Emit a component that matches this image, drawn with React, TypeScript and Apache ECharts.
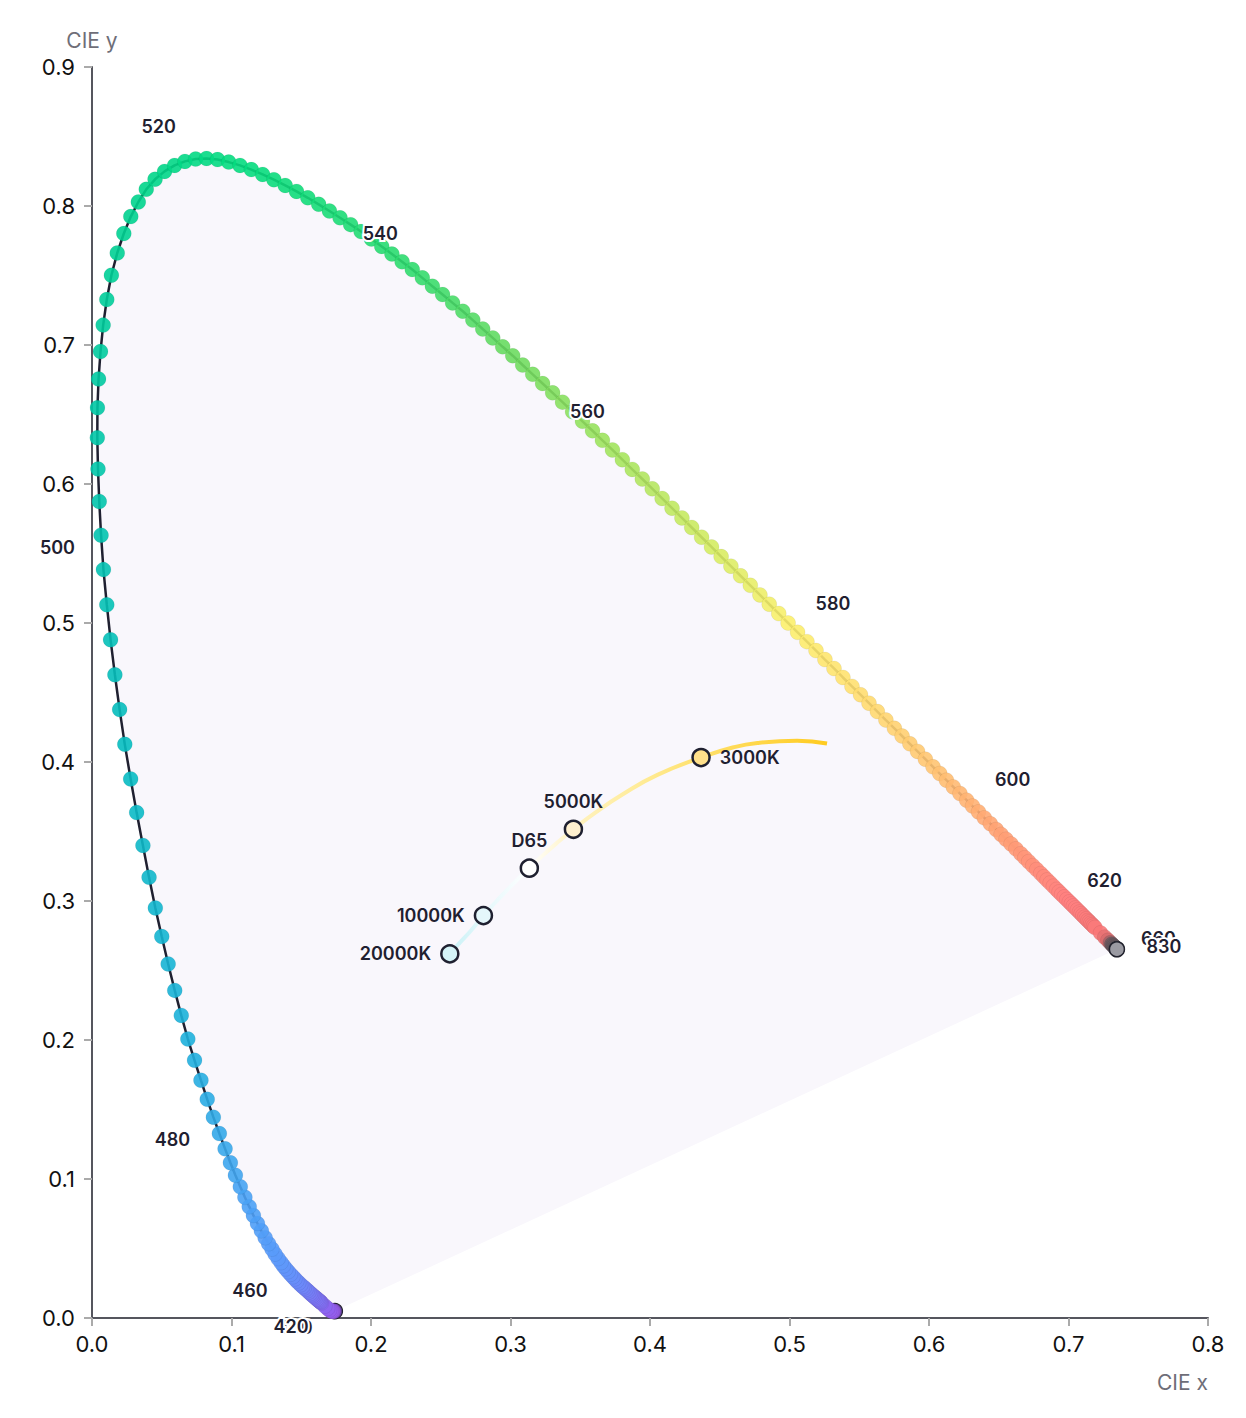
import { useEffect, useRef } from 'react';
import * as echarts from 'echarts';

// CIE 1931 spectral locus: [wavelength nm, x, y]
const SPECTRAL_LOCUS: [number, number, number][] = [
  [380, 0.1741, 0.0050], [385, 0.1740, 0.0050], [390, 0.1738, 0.0049], [395, 0.1736, 0.0049],
  [400, 0.1733, 0.0048], [405, 0.1730, 0.0048], [410, 0.1726, 0.0048], [415, 0.1721, 0.0048],
  [420, 0.1714, 0.0051], [425, 0.1703, 0.0058], [430, 0.1689, 0.0069], [435, 0.1669, 0.0086],
  [440, 0.1644, 0.0109], [441, 0.1638, 0.0115], [442, 0.1632, 0.0120], [443, 0.1625, 0.0126], [444, 0.1618, 0.0132],
  [445, 0.1611, 0.0138], [446, 0.1602, 0.0146], [447, 0.1593, 0.0153], [448, 0.1584, 0.0161], [449, 0.1575, 0.0169],
  [450, 0.1566, 0.0177], [451, 0.1555, 0.0187], [452, 0.1544, 0.0197], [453, 0.1533, 0.0207], [454, 0.1521, 0.0217],
  [455, 0.1510, 0.0227], [456, 0.1496, 0.0240], [457, 0.1482, 0.0253], [458, 0.1468, 0.0267], [459, 0.1454, 0.0282],
  [460, 0.1440, 0.0297], [461, 0.1423, 0.0315], [462, 0.1406, 0.0334], [463, 0.1389, 0.0354], [464, 0.1372, 0.0376],
  [465, 0.1355, 0.0399], [466, 0.1334, 0.0428], [467, 0.1312, 0.0460], [468, 0.1290, 0.0496], [469, 0.1266, 0.0535],
  [470, 0.1241, 0.0578], [471, 0.1214, 0.0627], [472, 0.1186, 0.0680], [473, 0.1157, 0.0738], [474, 0.1127, 0.0801],
  [475, 0.1096, 0.0868], [476, 0.1063, 0.0944], [477, 0.1028, 0.1027], [478, 0.0992, 0.1117], [479, 0.0954, 0.1217],
  [480, 0.0913, 0.1327], [481, 0.0870, 0.1445], [482, 0.0826, 0.1573], [483, 0.0781, 0.1710], [484, 0.0735, 0.1854],
  [485, 0.0687, 0.2007], [486, 0.0640, 0.2177], [487, 0.0593, 0.2357], [488, 0.0546, 0.2547], [489, 0.0500, 0.2744],
  [490, 0.0454, 0.2950], [491, 0.0409, 0.3170], [492, 0.0365, 0.3400], [493, 0.0320, 0.3636], [494, 0.0277, 0.3878],
  [495, 0.0235, 0.4127], [496, 0.0198, 0.4377], [497, 0.0164, 0.4628], [498, 0.0133, 0.4880], [499, 0.0106, 0.5132],
  [500, 0.0082, 0.5384], [501, 0.0065, 0.5632], [502, 0.0052, 0.5874], [503, 0.0043, 0.6108], [504, 0.0038, 0.6333],
  [505, 0.0039, 0.6548], [506, 0.0047, 0.6755], [507, 0.0061, 0.6953], [508, 0.0080, 0.7143], [509, 0.0106, 0.7327],
  [510, 0.0139, 0.7502], [511, 0.0181, 0.7662], [512, 0.0228, 0.7802], [513, 0.0278, 0.7924], [514, 0.0332, 0.8029],
  [515, 0.0389, 0.8120], [516, 0.0452, 0.8192], [517, 0.0520, 0.8249], [518, 0.0592, 0.8292], [519, 0.0666, 0.8321],
  [520, 0.0743, 0.8338], [521, 0.0821, 0.8342], [522, 0.0900, 0.8334], [523, 0.0980, 0.8316], [524, 0.1061, 0.8292],
  [525, 0.1142, 0.8262], [526, 0.1223, 0.8227], [527, 0.1304, 0.8189], [528, 0.1385, 0.8148], [529, 0.1466, 0.8105],
  [530, 0.1547, 0.8059], [531, 0.1625, 0.8012], [532, 0.1702, 0.7964], [533, 0.1778, 0.7915], [534, 0.1854, 0.7866],
  [535, 0.1929, 0.7816], [536, 0.2003, 0.7763], [537, 0.2077, 0.7709], [538, 0.2150, 0.7654], [539, 0.2223, 0.7599],
  [540, 0.2296, 0.7543], [541, 0.2368, 0.7483], [542, 0.2440, 0.7423], [543, 0.2513, 0.7363], [544, 0.2585, 0.7303],
  [545, 0.2658, 0.7243], [546, 0.2730, 0.7179], [547, 0.2801, 0.7115], [548, 0.2873, 0.7051], [549, 0.2944, 0.6987],
  [550, 0.3016, 0.6923], [551, 0.3087, 0.6856], [552, 0.3159, 0.6789], [553, 0.3230, 0.6723], [554, 0.3302, 0.6656],
  [555, 0.3373, 0.6589], [556, 0.3445, 0.6520], [557, 0.3516, 0.6451], [558, 0.3588, 0.6383], [559, 0.3659, 0.6314],
  [560, 0.3731, 0.6245], [561, 0.3802, 0.6175], [562, 0.3873, 0.6105], [563, 0.3945, 0.6036], [564, 0.4016, 0.5966],
  [565, 0.4087, 0.5896], [566, 0.4158, 0.5826], [567, 0.4229, 0.5756], [568, 0.4299, 0.5687], [569, 0.4370, 0.5617],
  [570, 0.4441, 0.5547], [571, 0.4510, 0.5478], [572, 0.4580, 0.5409], [573, 0.4649, 0.5340], [574, 0.4719, 0.5271],
  [575, 0.4788, 0.5202], [576, 0.4855, 0.5135], [577, 0.4923, 0.5068], [578, 0.4990, 0.5000], [579, 0.5058, 0.4933],
  [580, 0.5125, 0.4866], [581, 0.5190, 0.4802], [582, 0.5254, 0.4737], [583, 0.5319, 0.4673], [584, 0.5383, 0.4608],
  [585, 0.5448, 0.4544], [586, 0.5509, 0.4484], [587, 0.5570, 0.4423], [588, 0.5630, 0.4363], [589, 0.5691, 0.4302],
  [590, 0.5752, 0.4242], [591, 0.5807, 0.4187], [592, 0.5863, 0.4131], [593, 0.5918, 0.4076], [594, 0.5974, 0.4020],
  [595, 0.6029, 0.3965], [596, 0.6077, 0.3917], [597, 0.6125, 0.3869], [598, 0.6174, 0.3821], [599, 0.6222, 0.3773],
  [600, 0.6270, 0.3725], [601, 0.6312, 0.3683], [602, 0.6355, 0.3641], [603, 0.6397, 0.3598], [604, 0.6440, 0.3556],
  [605, 0.6482, 0.3514], [606, 0.6517, 0.3479], [607, 0.6552, 0.3444], [608, 0.6588, 0.3410], [609, 0.6623, 0.3375],
  [610, 0.6658, 0.3340], [611, 0.6687, 0.3311], [612, 0.6715, 0.3283], [613, 0.6744, 0.3254], [614, 0.6772, 0.3226],
  [615, 0.6801, 0.3197], [616, 0.6824, 0.3174], [617, 0.6847, 0.3151], [618, 0.6869, 0.3129], [619, 0.6892, 0.3106],
  [620, 0.6915, 0.3083], [621, 0.6933, 0.3065], [622, 0.6951, 0.3047], [623, 0.6970, 0.3029], [624, 0.6988, 0.3011],
  [625, 0.7006, 0.2993], [626, 0.7021, 0.2978], [627, 0.7035, 0.2964], [628, 0.7050, 0.2949], [629, 0.7064, 0.2935],
  [630, 0.7079, 0.2920], [631, 0.7091, 0.2908], [632, 0.7103, 0.2896], [633, 0.7116, 0.2883], [634, 0.7128, 0.2871],
  [635, 0.7140, 0.2859], [636, 0.7150, 0.2849], [637, 0.7160, 0.2839], [638, 0.7170, 0.2829], [639, 0.7180, 0.2819],
  [640, 0.7190, 0.2809], [645, 0.7230, 0.2770], [650, 0.7260, 0.2740], [655, 0.7283, 0.2717], [660, 0.7300, 0.2700],
  [665, 0.7311, 0.2689], [670, 0.7320, 0.2680], [675, 0.7327, 0.2673], [680, 0.7334, 0.2666], [685, 0.7340, 0.2660],
  [690, 0.7344, 0.2656], [695, 0.7346, 0.2654], [700, 0.7347, 0.2653], [710, 0.7347, 0.2653], [720, 0.7347, 0.2653],
  [730, 0.7347, 0.2653], [740, 0.7347, 0.2653], [750, 0.7347, 0.2653], [760, 0.7347, 0.2653], [770, 0.7347, 0.2653],
  [780, 0.7347, 0.2653], [790, 0.7347, 0.2653], [800, 0.7347, 0.2653], [810, 0.7347, 0.2653], [820, 0.7347, 0.2653],
  [830, 0.7347, 0.2653],
];

// wavelengths that carry a text label (drawn in this order)
const WAVELENGTH_LABELS = [400, 420, 460, 480, 500, 520, 540, 560, 580, 600, 620, 660, 830];

// Planckian locus line, 20000K -> 2000K: [x, y]
const PLANCK_LINE: [number, number][] = [
  [0.2565, 0.2620], [0.2637, 0.2700], [0.2719, 0.2790], [0.2806, 0.2895], [0.2869, 0.2965],
  [0.2952, 0.3054], [0.3064, 0.3168], [0.3135, 0.3236], [0.3221, 0.3318], [0.3325, 0.3411],
  [0.3451, 0.3516], [0.3608, 0.3636], [0.3805, 0.3768], [0.4053, 0.3907], [0.4366, 0.4032],
  [0.4599, 0.4106], [0.4770, 0.4137], [0.5055, 0.4152], [0.5269, 0.4133],
];

// named white points
const WHITE_NAMES = ['20000K', '10000K', 'D65', '5000K', '3000K'];
const WHITE_X = [0.2565, 0.2806, 0.3135, 0.3451, 0.4366];
const WHITE_Y = [0.2620, 0.2895, 0.3236, 0.3516, 0.4032];

const X_MIN = 0, X_MAX = 0.8, Y_MIN = 0, Y_MAX = 0.9, TICK_STEP = 0.1;

// ---------- styles ----------
const WHITE_FILLS = ['#d4f3f7', '#e4f7fb', '#ffffff', '#fff0cf', '#ffe08a'];
const WHITE_LABEL_POS = ['left', 'left', 'top', 'top', 'right'];
const LABEL_OFFSETS: Record<number, [number, number]> = {
  400: [-39, 16], 420: [-40, 16], 460: [-43, 14], 480: [-47, 6], 500: [-46, -22],
  520: [-37, -33], 540: [-32, -36], 560: [-25, -38], 580: [26, -38], 600: [46, -21],
  620: [48, -9], 660: [48, -4], 830: [47, -3],
};
const COLOR_STOPS: [number, string][] = [
  [380, '#3b3745'], [395, '#6b4aa8'], [410, '#9a5ce8'], [430, '#9060ee'], [450, '#7a7af5'],
  [465, '#5f98fa'], [475, '#4aa2f5'], [485, '#1eb0dc'], [495, '#06bcc0'], [505, '#00c8a4'],
  [515, '#00d58a'], [525, '#05dc7e'], [540, '#30dc6e'], [550, '#6ddc60'], [560, '#a2e45e'],
  [570, '#d4ec62'], [578, '#fcef6c'], [585, '#ffe070'], [595, '#ffc472'], [605, '#ffa474'],
  [615, '#ff8c7c'], [625, '#ff8080'], [645, '#f87878'], [655, '#d86c6e'], [665, '#6e5a60'],
  [700, '#55555c'], [830, '#9a9aa2'],
];
const INK = '#1f2030';
const FILL_COLOR = '#f9f7fc';

function hexToRgb(h: string) {
  const n = parseInt(h.slice(1), 16);
  return [(n >> 16) & 255, (n >> 8) & 255, n & 255];
}
function colorFor(wl: number) {
  for (let i = 0; i < COLOR_STOPS.length - 1; i++) {
    const [w0, c0] = COLOR_STOPS[i];
    const [w1, c1] = COLOR_STOPS[i + 1];
    if (wl >= w0 && wl <= w1) {
      const t = (wl - w0) / (w1 - w0);
      const a = hexToRgb(c0), b = hexToRgb(c1);
      const m = a.map((v, k) => Math.round(v + (b[k] - v) * t));
      return `rgb(${m[0]},${m[1]},${m[2]})`;
    }
  }
  return COLOR_STOPS[COLOR_STOPS.length - 1][1];
}

export default function App() {
  const ref = useRef<HTMLDivElement>(null);
  useEffect(() => {
    if (!ref.current) return;
    const chart = echarts.init(ref.current, undefined, { renderer: 'svg' });
    const FONT = 'Inter, "Liberation Sans", sans-serif';

    const firstWl = SPECTRAL_LOCUS[0][0];
    const lastWl = SPECTRAL_LOCUS[SPECTRAL_LOCUS.length - 1][0];

    const dotData = SPECTRAL_LOCUS.map(([wl, x, y]) => {
      const isEnd = wl === firstWl || wl === lastWl;
      return {
        value: [x, y, wl],
        itemStyle: isEnd
          ? { color: colorFor(wl), borderColor: '#22232e', borderWidth: 1.5, opacity: 1 }
          : { color: colorFor(wl), borderColor: 'rgba(0,0,0,0.06)', borderWidth: 1, opacity: 0.9 },
      };
    });

    const labelData = WAVELENGTH_LABELS.map((wl) => {
      const p = SPECTRAL_LOCUS.find((r) => r[0] === wl)!;
      return {
        value: [p[1], p[2]],
        label: { offset: LABEL_OFFSETS[wl], formatter: String(wl) },
      };
    });

    const whiteData = WHITE_NAMES.map((name, i) => ({
      value: [WHITE_X[i], WHITE_Y[i]],
      name,
      itemStyle: { color: WHITE_FILLS[i] },
      label: { position: WHITE_LABEL_POS[i] },
    }));

    const axisCommon = {
      type: 'value' as const,
      interval: TICK_STEP,
      splitLine: { show: false },
      axisLine: { show: true, lineStyle: { color: '#55565e', width: 2 } },
      axisTick: { show: true, length: 8, lineStyle: { color: '#aaaaaa', width: 2 } },
      axisLabel: {
        color: '#111111',
        fontSize: 22,
        fontFamily: FONT,
        formatter: (v: number) => v.toFixed(1),
      },
      nameTextStyle: { color: '#6e6e78', fontSize: 21, fontFamily: FONT },
    };

    chart.setOption({
      animation: false,
      backgroundColor: '#ffffff',
      grid: { left: 92, right: 38, top: 67, bottom: 100 },
      xAxis: {
        ...axisCommon,
        min: X_MIN,
        max: X_MAX,
        name: 'CIE x',
        nameLocation: 'end',
        nameGap: 0,
        nameTextStyle: { ...axisCommon.nameTextStyle, align: 'right', verticalAlign: 'top', padding: [54, 0, 0, 0] },
        axisLabel: { ...axisCommon.axisLabel, margin: 15 },
      },
      yAxis: {
        ...axisCommon,
        min: Y_MIN,
        max: Y_MAX,
        name: 'CIE y',
        nameLocation: 'end',
        nameGap: 16,
        nameTextStyle: { ...axisCommon.nameTextStyle, align: 'center' },
        axisLabel: { ...axisCommon.axisLabel, margin: 17 },
      },
      series: [
        {
          type: 'custom',
          silent: true,
          z: 1,
          clip: false,
          data: [[0, 0]],
          renderItem: (_params: any, api: any) => ({
            type: 'polygon',
            shape: { points: SPECTRAL_LOCUS.map(([, x, y]) => api.coord([x, y])) },
            style: { fill: FILL_COLOR },
          }),
        },
        {
          type: 'line',
          z: 2,
          silent: true,
          data: PLANCK_LINE,
          showSymbol: false,
          smooth: true,
          lineStyle: {
            width: 4,
            color: new echarts.graphic.LinearGradient(0, 0, 1, 0, [
              { offset: 0, color: '#c9f1f6' },
              { offset: 0.09, color: '#e4f8fb' },
              { offset: 0.21, color: '#ffffff' },
              { offset: 0.33, color: '#fff2c0' },
              { offset: 0.5, color: '#ffec99' },
              { offset: 0.67, color: '#ffe06a' },
              { offset: 1, color: '#ffcb1f' },
            ]),
          },
        },
        {
          type: 'line',
          z: 3,
          silent: true,
          data: SPECTRAL_LOCUS.map(([, x, y]) => [x, y]),
          showSymbol: false,
          lineStyle: { color: INK, width: 2.5 },
        },
        {
          type: 'scatter',
          z: 4,
          silent: true,
          symbolSize: 15,
          data: dotData,
        },
        {
          type: 'scatter',
          z: 5,
          silent: true,
          symbolSize: 1,
          itemStyle: { color: 'rgba(0,0,0,0)', opacity: 1 },
          label: {
            show: true,
            position: 'inside',
            align: 'center',
            verticalAlign: 'middle',
            color: INK,
            opacity: 1,
            fontSize: 18,
            fontWeight: 600,
            fontFamily: FONT,
            textBorderColor: '#ffffff',
            textBorderWidth: 4,
          },
          data: labelData,
        },
        {
          type: 'scatter',
          z: 6,
          silent: true,
          symbolSize: 17,
          itemStyle: { borderColor: INK, borderWidth: 2.5, opacity: 1 },
          label: {
            show: true,
            formatter: '{b}',
            distance: 9,
            color: INK,
            opacity: 1,
            fontSize: 18,
            fontWeight: 600,
            fontFamily: FONT,
          },
          data: whiteData,
        },
      ],
    });
    return () => chart.dispose();
  }, []);
  return (
    <div
      ref={ref}
      style={{ position: 'fixed', left: 0, top: 0, width: 1246, height: 1418, background: '#fff' }}
    />
  );
}
